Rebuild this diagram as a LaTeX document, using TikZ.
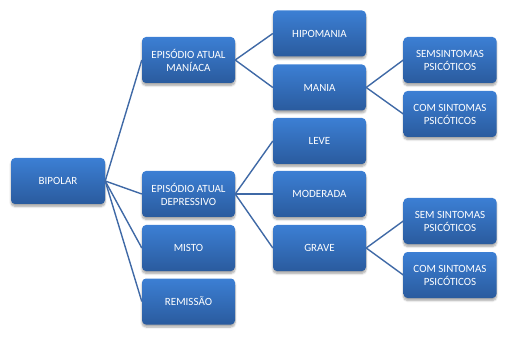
\documentclass[tikz,border=0pt]{standalone}
\usepackage{fontspec}
\setmainfont{Carlito}
\usetikzlibrary{shadows.blur}
\definecolor{boxtop}{HTML}{3C7FD4}
\definecolor{boxbot}{HTML}{2A5B9E}
\definecolor{linkc}{HTML}{3F69A6}
\tikzset{
  box/.style={rectangle, rounded corners=4pt, minimum width=93pt, minimum height=46pt,
    inner sep=1pt, top color=boxtop, bottom color=boxbot, draw=none, text=white,
    align=center, font=\fontsize{11}{13}\selectfont,
    blur shadow={shadow xshift=0pt, shadow yshift=-2.5pt, shadow blur steps=6, shadow opacity=35}},
  link/.style={draw=linkc, line width=1.4pt}
}
\begin{document}
\begin{tikzpicture}[x=1pt,y=1pt]
\useasboundingbox (0,0) rectangle (508,340);
\node[box, minimum width=94pt] (bip) at (58,159) {BIPOLAR};
\node[box] (man) at (188.5,280) {EPISÓDIO ATUAL\\MANÍACA};
\node[box] (dep) at (188.5,146) {EPISÓDIO ATUAL\\DEPRESSIVO};
\node[box] (mis) at (188.5,92) {MISTO};
\node[box] (rem) at (188.5,38.5) {REMISSÃO};
\node[box] (hip) at (319.5,306.5) {HIPOMANIA};
\node[box] (mani) at (319.5,252.5) {MANIA};
\node[box] (lev) at (319.5,199) {LEVE};
\node[box] (mod) at (319.5,146) {MODERADA};
\node[box] (gra) at (319.5,92) {GRAVE};
\node[box] (s1) at (450,280) {SEMSINTOMAS\\PSICÓTICOS};
\node[box] (c1) at (450,226) {COM SINTOMAS\\PSICÓTICOS};
\node[box] (s2) at (450,119) {SEM SINTOMAS\\PSICÓTICOS};
\node[box] (c2) at (450,65) {COM SINTOMAS\\PSICÓTICOS};
\foreach \a/\b in {bip/man,bip/dep,bip/mis,bip/rem,man/hip,man/mani,dep/lev,dep/mod,dep/gra,mani/s1,mani/c1,gra/s2,gra/c2}
  \draw[link] (\a.east) -- (\b.west);
\end{tikzpicture}
\end{document}
